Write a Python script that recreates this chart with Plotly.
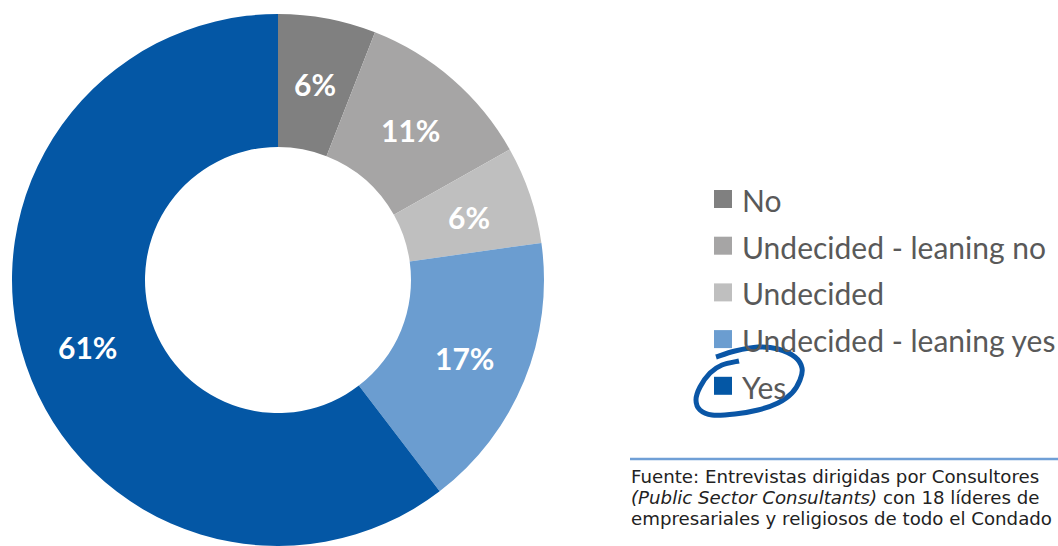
import math
import plotly.graph_objects as go

W, H = 1058, 546

categories = ["No", "Undecided - leaning no", "Undecided", "Undecided - leaning yes", "Yes"]
values = [6, 11, 6, 17, 61]
labels_text = ["6%", "11%", "6%", "17%", "61%"]
colors = ["#808080", "#a6a5a5", "#bfbfbf", "#6b9dd0", "#0457a5"]

source_lines = [
    "Fuente: Entrevistas dirigidas por Consultores",
    "<i>(Public Sector Consultants)</i> con 18 líderes de",
    "empresariales y religiosos de todo el Condado",
]


def px(x):
    return x / W


def py(y):
    return 1 - y / H


# pie geometry (pixels)
PIE_LEFT, PIE_RIGHT, PIE_TOP = 12, 544, 14
HOLE = 0.5
R_OUT = (PIE_RIGHT - PIE_LEFT) / 2
CX, CY = (PIE_LEFT + PIE_RIGHT) / 2, PIE_TOP + R_OUT

fig = go.Figure(go.Pie(
    labels=categories,
    values=values,
    textinfo="none",
    marker=dict(colors=colors, line=dict(width=0)),
    hole=HOLE,
    sort=False,
    direction="clockwise",
    rotation=0,
    showlegend=False,
    hoverinfo="label+percent",
    domain=dict(x=[px(PIE_LEFT), px(PIE_RIGHT)], y=[0, py(PIE_TOP)]),
))

# slice labels at the radial middle of each slice, derived from the values
total = sum(values)
r_mid = R_OUT * (1 + HOLE) / 2 + 2
cum = 0
for v, t in zip(values, labels_text):
    theta = 2 * math.pi * (cum + v / 2) / total
    cum += v
    lx = CX + r_mid * math.sin(theta)
    ly = CY - r_mid * math.cos(theta) + 2
    fig.add_annotation(xref="paper", yref="paper", x=px(lx), y=py(ly),
                       xanchor="center", yanchor="middle", showarrow=False,
                       text=f"<b>{t}</b>",
                       font=dict(family="Lato", size=30, color="white"))

# legend (squares + labels)
LEG_X, LEG_Y0, LEG_DY, SQ = 714, 199, 46.7, 18
for i, (name, col) in enumerate(zip(categories, colors)):
    yc = LEG_Y0 + i * LEG_DY
    fig.add_shape(type="rect", xref="paper", yref="paper",
                  x0=px(LEG_X), x1=px(LEG_X + SQ),
                  y0=py(yc - SQ / 2), y1=py(yc + SQ / 2),
                  fillcolor=col, line=dict(width=0))
    fig.add_annotation(xref="paper", yref="paper", x=px(LEG_X + SQ + 8), y=py(yc + 1),
                       xanchor="left", yanchor="middle", showarrow=False,
                       text=name, font=dict(family="Lato", size=30, color="#595959"))

# hand-drawn circle around "Yes"
loop = [(716, 357), (735, 351), (758, 347), (778, 349), (795, 357), (802, 368),
        (800, 380), (792, 393), (778, 403), (758, 410), (735, 414), (712, 415),
        (700, 410), (696, 400), (700, 387), (710, 373), (722, 365), (739, 361)]


def smooth_path(pts):
    d = f"M {px(pts[0][0]):.5f},{py(pts[0][1]):.5f}"
    n = len(pts)
    for i in range(n - 1):
        p0 = pts[max(i - 1, 0)]
        p1 = pts[i]
        p2 = pts[i + 1]
        p3 = pts[min(i + 2, n - 1)]
        c1 = (p1[0] + (p2[0] - p0[0]) / 6, p1[1] + (p2[1] - p0[1]) / 6)
        c2 = (p2[0] - (p3[0] - p1[0]) / 6, p2[1] - (p3[1] - p1[1]) / 6)
        d += (f" C {px(c1[0]):.5f},{py(c1[1]):.5f} {px(c2[0]):.5f},{py(c2[1]):.5f}"
              f" {px(p2[0]):.5f},{py(p2[1]):.5f}")
    return d


fig.add_shape(type="path", xref="paper", yref="paper", path=smooth_path(loop),
              line=dict(color="#0a56a6", width=5))

# source note
fig.add_shape(type="line", xref="paper", yref="paper",
              x0=px(630), x1=px(1058), y0=py(459), y1=py(459),
              line=dict(color="#6f9fd6", width=2.5))

for i, line in enumerate(source_lines):
    fig.add_annotation(xref="paper", yref="paper", x=px(629), y=py(476 + i * 21),
                       xanchor="left", yanchor="middle", align="left", showarrow=False,
                       text=line,
                       font=dict(family="DejaVu Sans", size=18.2, color="#222222"))

fig.update_layout(
    width=W, height=H,
    margin=dict(l=0, r=0, t=0, b=0),
    paper_bgcolor="white", plot_bgcolor="white",
    showlegend=False,
)

fig.write_html("out.html", config={"displayModeBar": False},
               post_script="document.body.style.margin='0';")
